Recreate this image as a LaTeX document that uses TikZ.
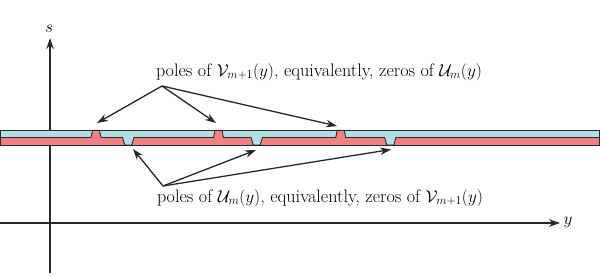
\documentclass[tikz,border=0pt]{standalone}
\usetikzlibrary{arrows.meta}
\definecolor{stripcyan}{RGB}{176,224,230}
\definecolor{stripred}{RGB}{242,128,128}
\definecolor{linegray}{RGB}{40,40,40}
\begin{document}
\begin{tikzpicture}[x=1bp,y=-1bp,
  axis/.style={draw=linegray,line width=1.6bp,-{Stealth[length=11bp,width=7.5bp]}},
  pointer/.style={draw=linegray,line width=1.3bp,-{Stealth[length=11bp,width=7.5bp]}},
  lbl/.style={inner sep=0pt,font=\fontsize{18.2}{20}\selectfont}]
\useasboundingbox (0,0) rectangle (600,275);
% axes
\coordinate (sbot) at (50,273);
\coordinate (stop) at (50,38);
\coordinate (yleft) at (0,223);
\coordinate (yright) at (560,223);
\draw[axis] (sbot) -- (stop);
\draw[axis] (yleft) -- (yright);
\node[lbl] (slab) at (49,29) {$s$};
\node[lbl] (ylab) at (568,222) {$y$};
% strip
\fill[stripred] (0,130) rectangle (599,145);
\def\bnd{(0,137.5)
 -- (91,137.5) -- (92.5,130.3) -- (99.5,130.3) -- (101,137.5)
 -- (122.6,137.5) -- (124.8,145) -- (131.8,145) -- (134,137.5)
 -- (213.5,137.5) -- (215,130.3) -- (222,130.3) -- (223.5,137.5)
 -- (251,137.5) -- (253.2,145) -- (260.2,145) -- (262.4,137.5)
 -- (335.7,137.5) -- (337.2,130.3) -- (344.2,130.3) -- (345.7,137.5)
 -- (384.6,137.5) -- (386.8,145) -- (393.8,145) -- (396,137.5)
 -- (599,137.5)}
\fill[stripcyan] (0,130) -- \bnd -- (599,130) -- cycle;
\draw[linegray,line width=0.9bp] \bnd;
\draw[linegray,line width=1bp] (0,130) rectangle (599,145);
% labels
\node[lbl] (toplab) at (319,72) {poles of $\mathcal{V}_{m+1}(y)$, equivalently, zeros of $\mathcal{U}_m(y)$};
\node[lbl] (botlab) at (320,198) {poles of $\mathcal{U}_m(y)$, equivalently, zeros of $\mathcal{V}_{m+1}(y)$};
\coordinate (tsrc) at (162,86);
\coordinate (bsrc) at (163,186);
\coordinate (up1) at (97,123);
\coordinate (up2) at (216,123);
\coordinate (up3) at (337,126);
\coordinate (dn1) at (133,149);
\coordinate (dn2) at (256,150);
\coordinate (dn3) at (391,149.5);
\foreach \t in {up1,up2,up3} \draw[pointer] (tsrc) -- (\t);
\foreach \t in {dn1,dn2,dn3} \draw[pointer] (bsrc) -- (\t);
\end{tikzpicture}
\end{document}
